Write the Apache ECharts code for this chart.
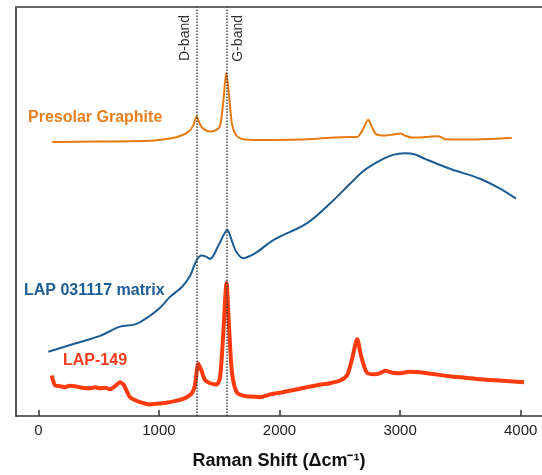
<!DOCTYPE html>
<html>
<head>
<meta charset="utf-8">
<script src="https://cdn.jsdelivr.net/npm/echarts@6/dist/echarts.min.js"></script>
<style>
  html, body { margin: 0; padding: 0; background: #fff; }
  #main { width: 542px; height: 475px; }
</style>
</head>
<body>
<div id="main"></div>
<script>
// 拉曼光谱数据 (横轴 Δcm-1, 纵轴为相对强度, 各谱线已错开)
var tickValues = [0, 1000, 2000, 3000, 4000];
var bandShift = [1310, 1562];
var bandNames = ['D-band', 'G-band'];

var graphiteShift = [115, 511, 926, 1092, 1175, 1241, 1283, 1313, 1340, 1373, 1424, 1474, 1507, 1532, 1559, 1581, 1606, 1639, 1689, 1838, 2170, 2585, 2643, 2685, 2736, 2767, 2800, 2875, 2941, 3005, 3049, 3099, 3207, 3314, 3347, 3372, 3580, 3925];
var graphiteIntensity = [276, 276.5, 277.3, 279.5, 282, 286, 292, 302, 294, 289, 286.5, 288, 292, 314, 345.7, 324, 294, 283, 279, 278, 278.5, 281, 281, 287, 298.3, 291, 284, 282.5, 283.5, 284.5, 282, 280.5, 281, 281.7, 280.5, 278.7, 278.5, 280];

var matrixShift = [83, 304, 512, 677, 802, 926, 1009, 1092, 1191, 1258, 1313, 1355, 1391, 1424, 1490, 1540, 1567, 1598, 1639, 1700, 1800, 1946, 2226, 2419, 2585, 2709, 2833, 2941, 3041, 3124, 3207, 3414, 3663, 3829, 3961];
var matrixIntensity = [64.7, 73, 80.7, 90, 92.3, 101, 109, 120, 130, 141, 157, 161.7, 160.5, 158.3, 171, 183, 187.3, 179, 166, 159, 164, 177, 194, 214, 234, 248, 257.3, 263, 264.7, 263.5, 259, 249, 239, 229, 219];

var lap149Shift = [111, 122, 138, 180, 221, 262, 304, 360, 429, 470, 512, 555, 594, 636, 677, 710, 760, 843, 926, 1010, 1092, 1150, 1216, 1274, 1299, 1327, 1349, 1382, 1424, 1479, 1507, 1532, 1561, 1582, 1606, 1645, 1714, 1780, 1838, 1930, 2029, 2150, 2311, 2420, 2502, 2560, 2601, 2645, 2676, 2723, 2792, 2840, 2875, 2940, 3000, 3080, 3166, 3290, 3414, 3540, 3663, 3790, 3912, 4028];
var lap149Intensity = [40.7, 36, 31, 30, 29, 30.5, 30, 28.5, 28, 29, 28, 28.5, 27, 30, 34, 31, 19, 14, 11.7, 12.5, 14, 15.5, 18, 23, 31, 53, 47, 36.3, 33, 31.7, 39, 79, 134, 89, 44, 24, 20, 19.5, 19, 22, 24, 27, 31, 33, 35.7, 41, 57, 77.3, 61, 44, 42, 43.5, 45.7, 43.5, 43, 44.5, 44, 42, 40, 38.5, 37, 36, 35, 34];

function zip(xs, ys) {
    var out = [];
    for (var i = 0; i < xs.length; i++) {
        out.push([xs[i], ys[i]]);
    }
    return out;
}

var font = '"Liberation Sans", Arial, sans-serif';

var option = {
    animation: false,
    backgroundColor: '#fff',
    grid: { left: 16, right: 0, top: 7, bottom: 56 },
    xAxis: [
        {
            type: 'value',
            min: -185,
            max: 4177,
            position: 'bottom',
            name: 'Raman Shift (Δcm⁻¹)',
            nameLocation: 'middle',
            nameGap: 36,
            nameTextStyle: { fontFamily: font, fontWeight: 'bold', fontSize: 18, color: '#111' },
            axisLine: { show: true, onZero: false, lineStyle: { color: '#333', width: 1.5 } },
            axisTick: { show: true, inside: true, length: 6, customValues: tickValues, lineStyle: { color: '#333', width: 1.5 } },
            axisLabel: {
                customValues: tickValues, margin: 7, fontFamily: font, fontSize: 15, color: '#222',
                formatter: function (v) { return String(v); }
            },
            splitLine: { show: false }
        },
        {
            // 顶部边框
            type: 'value',
            min: -185,
            max: 4177,
            position: 'top',
            axisLine: { show: true, onZero: false, lineStyle: { color: '#666', width: 2 } },
            axisTick: { show: false },
            axisLabel: { show: false },
            splitLine: { show: false }
        }
    ],
    yAxis: {
        type: 'value',
        min: 0,
        max: 412,
        axisLine: { show: true, onZero: false, lineStyle: { color: '#555', width: 2 } },
        axisTick: { show: false },
        axisLabel: { show: false },
        splitLine: { show: false }
    },
    series: [
        {
            name: 'LAP-149',
            type: 'line',
            data: zip(lap149Shift, lap149Intensity),
            showSymbol: false,
            smooth: 0.25,
            lineStyle: { color: '#ff3a0c', width: 4 },
            z: 3,
            markLine: {
                silent: true,
                symbol: 'none',
                lineStyle: { color: '#444', type: 'dotted', width: 1.5 },
                data: [
                    { xAxis: bandShift[0], label: { show: true, formatter: bandNames[0], position: 'insideEndTop', distance: [8, 4], fontFamily: font, fontSize: 14, color: '#333' } },
                    { xAxis: bandShift[1], label: { show: true, formatter: bandNames[1], position: 'insideEndBottom', distance: [8, 4], fontFamily: font, fontSize: 14, color: '#333' } }
                ]
            }
        },
        {
            name: 'LAP 031117 matrix',
            type: 'line',
            data: zip(matrixShift, matrixIntensity),
            showSymbol: false,
            smooth: 0.35,
            lineStyle: { color: '#1b5c93', width: 2 },
            z: 4
        },
        {
            name: 'Presolar Graphite',
            type: 'line',
            data: zip(graphiteShift, graphiteIntensity),
            showSymbol: false,
            smooth: 0.25,
            lineStyle: { color: '#e8790f', width: 2 },
            z: 4
        }
    ],
    graphic: [
        { type: 'text', left: 28, top: 110, style: { text: 'Presolar Graphite', font: 'bold 16px ' + font, fill: '#e8801e' } },
        { type: 'text', left: 24, top: 283, style: { text: 'LAP 031117 matrix', font: 'bold 16px ' + font, fill: '#1d5c94' } },
        { type: 'text', left: 63, top: 353, style: { text: 'LAP-149', font: 'bold 16px ' + font, fill: '#ff3b1f' } }
    ]
};

var myChart = echarts.init(document.getElementById('main'));
myChart.setOption(option);
</script>
</body>
</html>
